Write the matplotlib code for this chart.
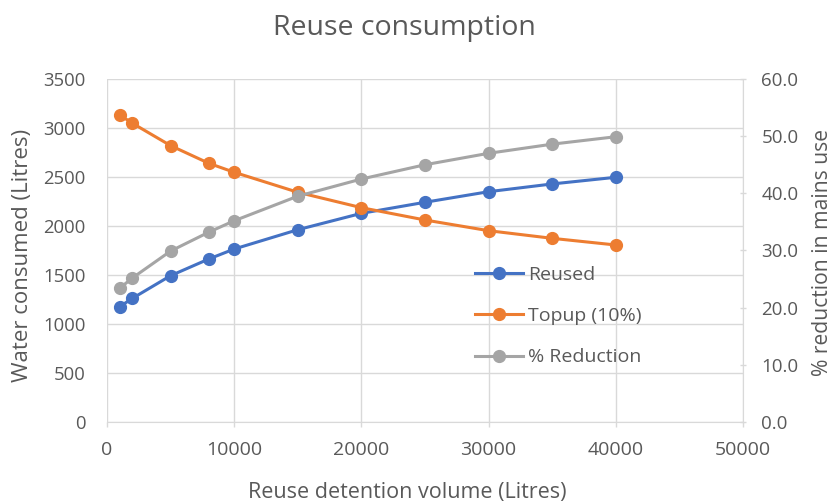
import matplotlib
matplotlib.use("Agg")
import matplotlib.pyplot as plt
from matplotlib.ticker import FormatStrFormatter

plt.rcParams['font.family'] = ['Open Sans', 'DejaVu Sans']

volume = [1000, 2000, 5000, 8000, 10000, 15000, 20000, 25000, 30000, 35000, 40000]
reused = [1177, 1262, 1493, 1663, 1765, 1962, 2129, 2242, 2350, 2429, 2497]
topup = [3133, 3048, 2820, 2640, 2548, 2344, 2187, 2061, 1952, 1874, 1806]
reduction = [23.4, 25.2, 29.9, 33.2, 35.2, 39.5, 42.5, 45.0, 47.0, 48.6, 49.9]

series_names = ["Reused", "Topup (10%)", "% Reduction"]
title = "Reuse consumption"
xlabel = "Reuse detention volume (Litres)"
ylabel_left = "Water consumed (Litres)"
ylabel_right = "% reduction in mains use"

BLUE, ORANGE, GREY = "#4472C4", "#ED7D31", "#A5A5A5"
TEXT = "#595959"
GRID = "#D9D9D9"

fig = plt.figure(figsize=(8.34, 5.04), dpi=100)
ax = fig.add_axes([0.1283, 0.1627, 0.7626, 0.6806])
ax2 = ax.twinx()

lw, ms = 2.2, 8.5
l1, = ax.plot(volume, reused, color=BLUE, lw=lw, marker='o', ms=ms, label=series_names[0], zorder=3)
l2, = ax.plot(volume, topup, color=ORANGE, lw=lw, marker='o', ms=ms, label=series_names[1], zorder=4)
l3, = ax2.plot(volume, reduction, color=GREY, lw=lw, marker='o', ms=ms, label=series_names[2], zorder=3)

ax.set_xlim(0, 50000)
ax.set_ylim(0, 3500)
ax2.set_ylim(0, 60)
ax.set_xticks(range(0, 50001, 10000))
ax.set_yticks(range(0, 3501, 500))
ax2.set_yticks(range(0, 61, 10))
ax2.yaxis.set_major_formatter(FormatStrFormatter('%.1f'))

ax.grid(True, color=GRID, lw=1.0, zorder=0)
ax.set_axisbelow(True)

for a in (ax, ax2):
    for s in a.spines.values():
        s.set_visible(False)
ax.spines['bottom'].set_visible(True)
ax.spines['bottom'].set_color(GRID)
ax2.spines['right'].set_visible(True)
ax2.spines['right'].set_color(GRID)

ax.tick_params(axis='x', colors=GRID, labelcolor=TEXT, labelsize=14, length=3.6, width=1, pad=10)
ax.tick_params(axis='y', length=0, labelcolor=TEXT, labelsize=13.3, pad=15.5)
ax2.tick_params(axis='y', direction='inout', colors=GRID, labelcolor=TEXT, labelsize=13.5,
                length=4.5, width=1, pad=11)

fig.text(0.488, 0.022, xlabel, ha='center', va='center', color=TEXT, fontsize=15.5)
fig.text(0.0264, 0.494, ylabel_left, ha='center', va='center', rotation=90, color=TEXT, fontsize=16)
fig.text(0.986, 0.5, ylabel_right, ha='center', va='center', rotation=90, color=TEXT, fontsize=15.2)
fig.text(0.485, 0.944, title, ha='center', va='center', color=TEXT, fontsize=20.5)

ax2.legend(handles=[l1, l2, l3], loc='upper left', bbox_to_anchor=(0.566, 0.477),
           frameon=False, fontsize=14, labelcolor=TEXT, handlelength=2.5,
           handletextpad=0.25, labelspacing=1.19, borderaxespad=0)

fig.savefig("out.png", dpi=100)
